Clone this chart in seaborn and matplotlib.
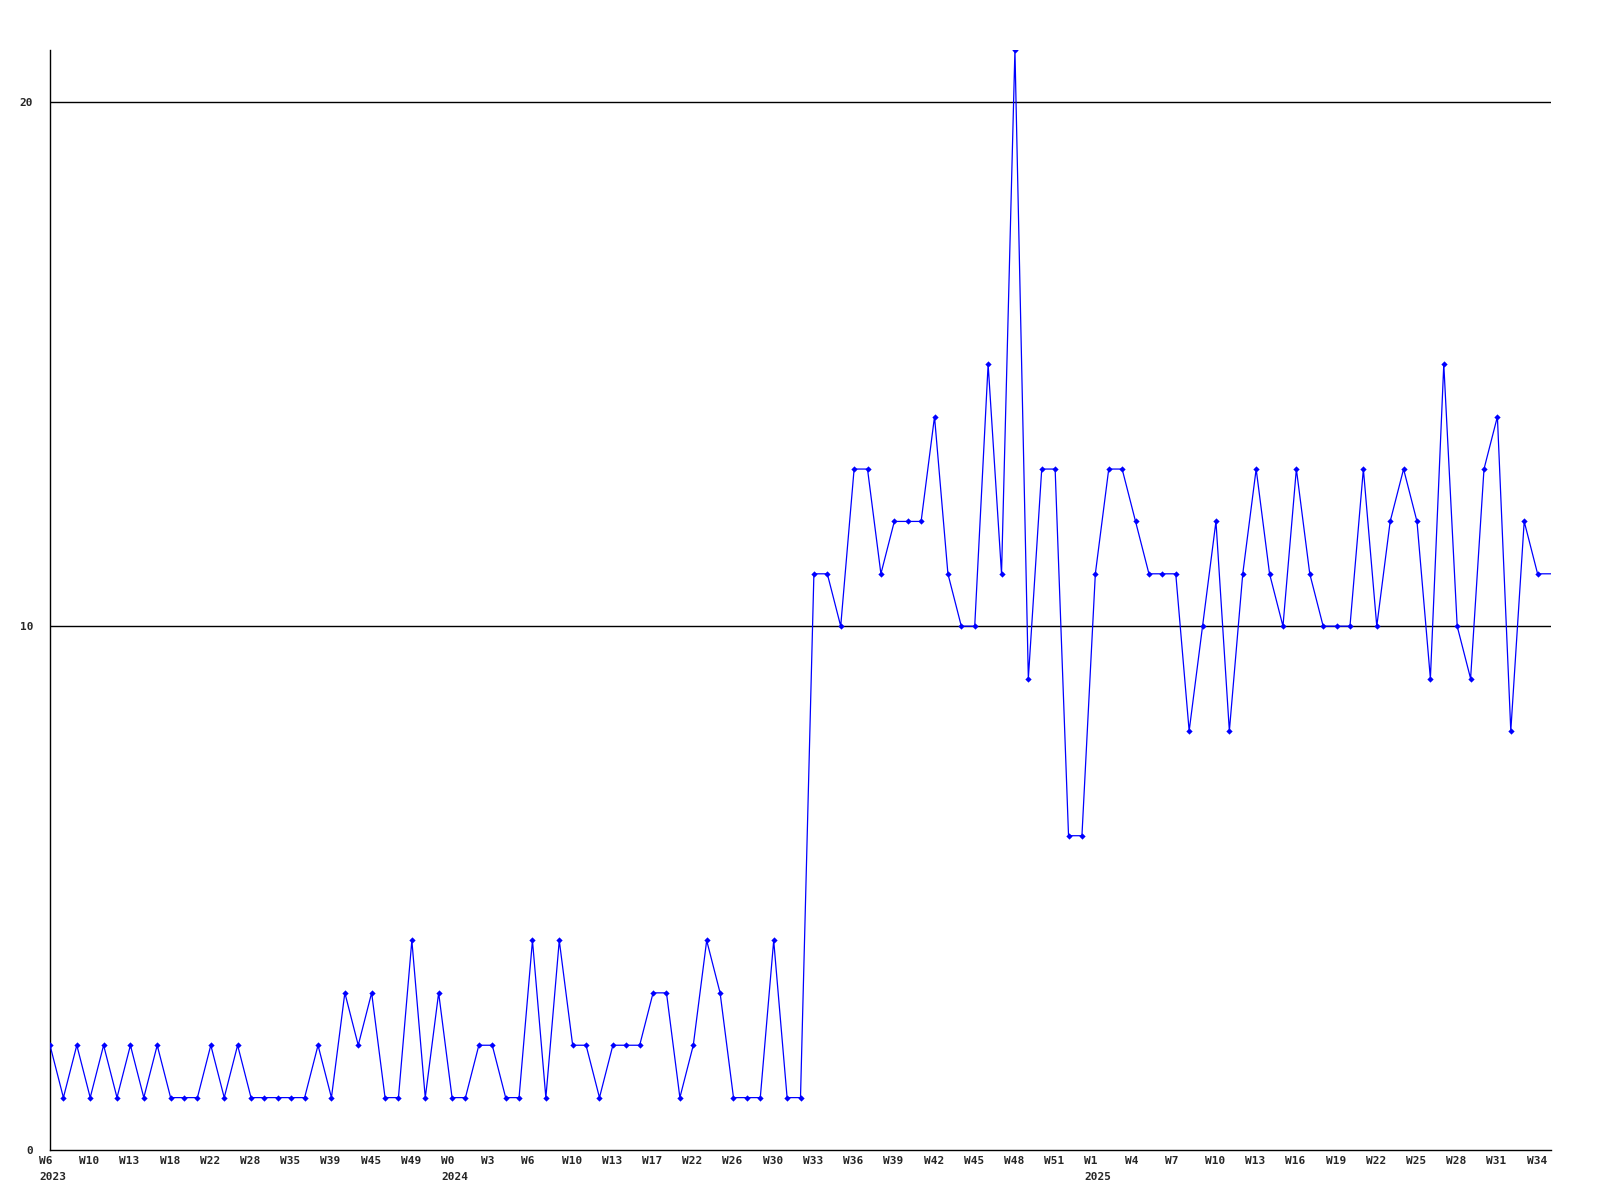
import matplotlib
matplotlib.use("Agg")
import matplotlib.pyplot as plt
import matplotlib.transforms as mtransforms
import seaborn as sns
import pandas as pd

# === DATA ===
values = [
    2, 1, 2, 1, 2, 1, 2, 1, 2, 1,
    1, 1, 2, 1, 2, 1, 1, 1, 1, 1,
    2, 1, 3, 2, 3, 1, 1, 4, 1, 3,
    1, 1, 2, 2, 1, 1, 4, 1, 4, 2,
    2, 1, 2, 2, 2, 3, 3, 1, 2, 4,
    3, 1, 1, 1, 4, 1, 1, 11, 11, 10,
    13, 13, 11, 12, 12, 12, 14, 11, 10, 10,
    15, 11, 21, 9, 13, 13, 6, 6, 11, 13,
    13, 12, 11, 11, 11, 8, 10, 12, 8, 11,
    13, 11, 10, 13, 11, 10, 10, 10, 13, 10,
    12, 13, 12, 9, 15, 10, 9, 13, 14, 8,
    12, 11, 11,
]

week_labels = [
    "W6", "W10", "W13", "W18", "W22", "W28", "W35", "W39", "W45", "W49",
    "W0", "W3", "W6", "W10", "W13", "W17", "W22", "W26", "W30", "W33",
    "W36", "W39", "W42", "W45", "W48", "W51",
    "W1", "W4", "W7", "W10", "W13", "W16", "W19", "W22", "W25", "W28",
    "W31", "W34",
]
years = ["2023", "2024", "2025"]
y_ticks = [0, 10, 20]

df = pd.DataFrame({"idx": range(len(values)), "count": values})
label_step = 3
tick_pos = [i * label_step for i in range(len(week_labels))]

# year starts where the week number goes back down
year_pos = []
for k, lab in enumerate(week_labels):
    if k == 0 or int(lab[1:]) < int(week_labels[k - 1][1:]):
        year_pos.append(tick_pos[k])

# === PLOT ===
sns.set_style("white")
plt.rcParams["font.family"] = ["DejaVu Sans Mono"]

fig = plt.figure(figsize=(16, 12), dpi=100)
ax = fig.add_axes([50 / 1600, 50 / 1200, 1501 / 1600, 1100 / 1200])

for y in y_ticks[1:]:
    ax.axhline(y, color="black", lw=1.0, zorder=1)

sns.lineplot(
    data=df, x="idx", y="count", ax=ax,
    color="#0000ff", lw=0.9, marker="D", markersize=3.2,
    markeredgewidth=0, markevery=list(range(len(values) - 1)),
    zorder=3, clip_on=True,
)

ax.set_xlim(0, len(values) - 1)
ax.set_ylim(0, 21)
ax.set_xlabel("")
ax.set_ylabel("")

for side in ["top", "right"]:
    ax.spines[side].set_visible(False)
for side in ["left", "bottom"]:
    ax.spines[side].set_color("black")
    ax.spines[side].set_linewidth(1.0)

ax.set_yticks(y_ticks)
ax.set_yticklabels([str(v) for v in y_ticks], fontsize=8, fontweight="bold")
ax.tick_params(axis="y", length=0, pad=12)

ax.set_xticks(tick_pos)
ax.set_xticklabels(week_labels, fontsize=8, fontweight="bold", ha="left")
ax.tick_params(axis="x", length=0, pad=4.5)
shift = mtransforms.ScaledTranslation(-11 / 100, 0, fig.dpi_scale_trans)
for lab in ax.get_xticklabels():
    lab.set_transform(lab.get_transform() + shift)

for pos, yr in zip(year_pos, years):
    ax.annotate(yr, xy=(pos, 0), xycoords=("data", "axes fraction"),
                xytext=(-11, -27), textcoords="offset pixels",
                ha="left", va="center", fontsize=8, fontweight="bold")

fig.savefig("out.png", dpi=100)
